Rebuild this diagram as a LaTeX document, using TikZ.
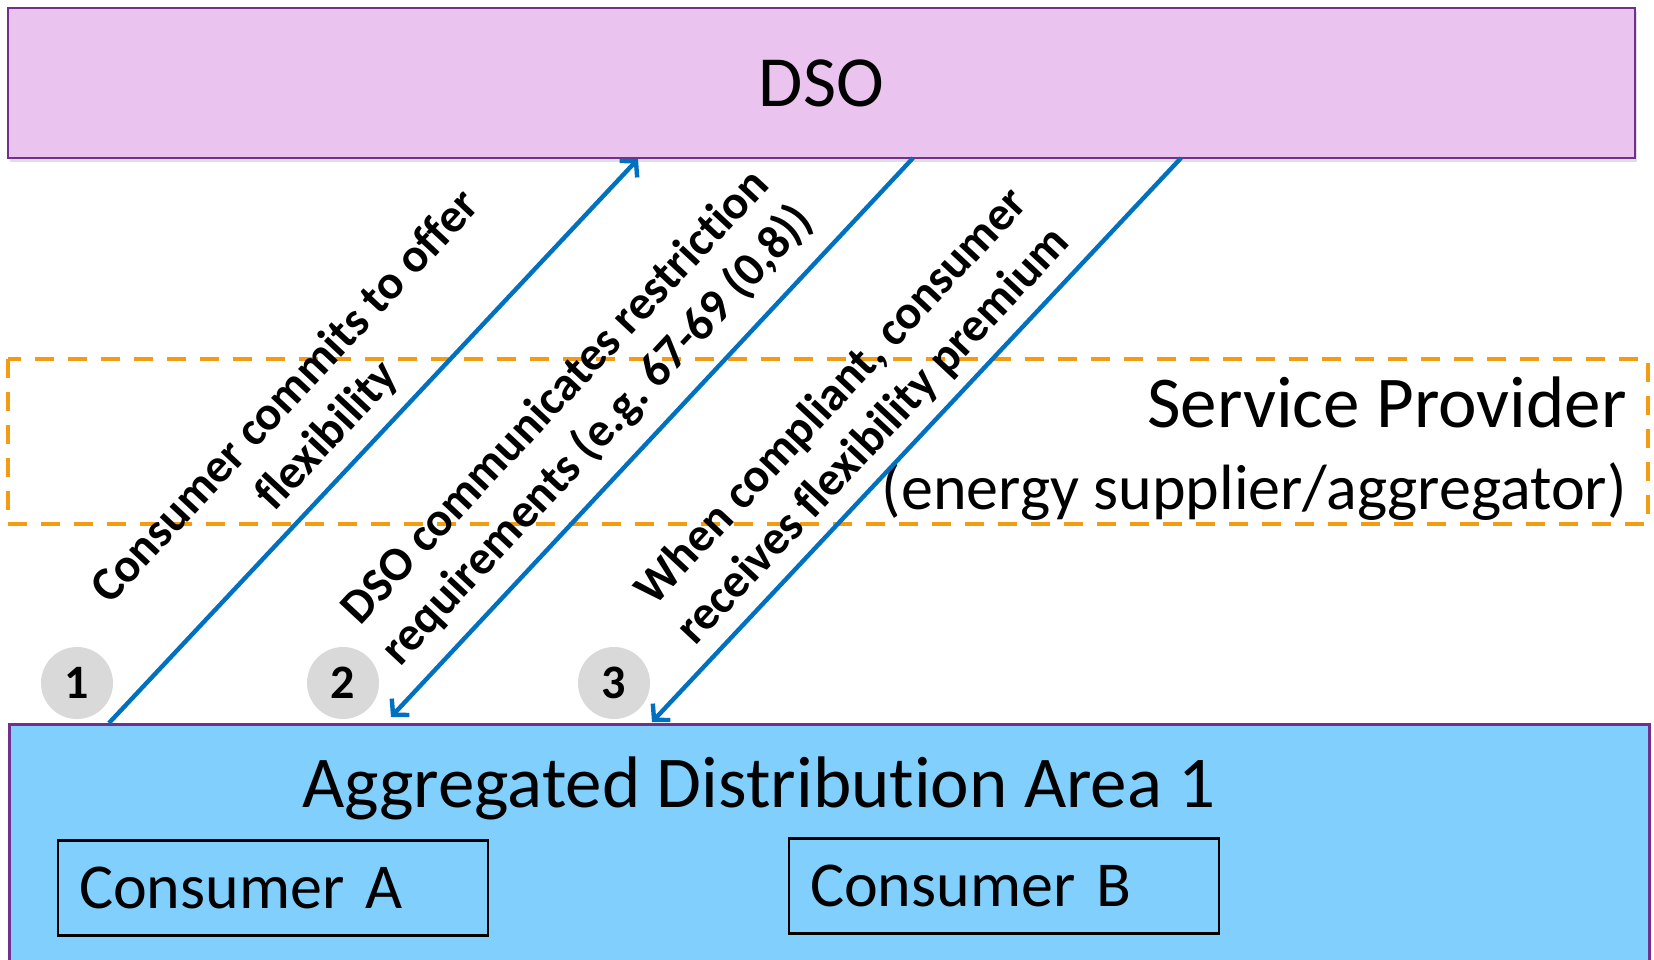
\documentclass[tikz,border=0pt]{standalone}
\usepackage{fontspec}
\setmainfont{Carlito}[Ligatures=NoCommon]
\usetikzlibrary{arrows.meta}
\usetikzlibrary{shadows}
\frenchspacing

\definecolor{dsofill}{RGB}{234,195,238}
\definecolor{boxline}{RGB}{112,48,140}
\definecolor{areafill}{RGB}{128,207,252}
\definecolor{spline}{RGB}{243,156,18}
\definecolor{msgblue}{RGB}{0,112,192}
\definecolor{stepgray}{RGB}{217,217,217}

\begin{document}
\begin{tikzpicture}[x=0.5pt,y=-0.5pt,
        msg/.style={draw=msgblue,line width=2.2pt,-{Straight Barb[length=5.5pt,width=12pt]}},
        stepmark/.style={circle,fill=stepgray,minimum size=36pt,inner sep=0pt,font=\fontsize{24}{28}\selectfont\bfseries},
        msglabel/.style={rotate=47,align=center,inner sep=0pt,font=\fontsize{24}{28.5}\selectfont\bfseries},
        consumer/.style={draw=black,line width=1.2pt,text width=194pt,inner xsep=10.5pt,minimum height=47.5pt,align=left,font=\fontsize{32}{38}\selectfont}]

        \useasboundingbox (0,0) rectangle (1654,959);

        \coordinate (lo1) at (109,723);
        \coordinate (up1) at (638,159);
        \coordinate (up2) at (913,158);
        \coordinate (lo2) at (391,717);
        \coordinate (up3) at (1181,158);
        \coordinate (lo3) at (652,722);

        % boxes
        \node[draw=boxline,line width=1.3pt,fill=dsofill,minimum width=813.5pt,minimum height=75pt,
              drop shadow={opacity=.25,shadow xshift=1pt,shadow yshift=-2pt},
              font=\fontsize{36}{43}\selectfont] (dso) at (821.5,83) {DSO};
        \node[draw=boxline,line width=1.3pt,fill=areafill,minimum width=820pt,minimum height=130pt,
              anchor=north west] (area) at (8,723) {};

        \draw[spline,line width=2pt,dash pattern=on 9.5pt off 7pt] (8,359) rectangle (1648,524);
        \node[anchor=base east,inner sep=0pt,font=\fontsize{36.5}{43}\selectfont] (sp) at (1627,427) {Service Provider};
        \node[anchor=base east,inner sep=0pt,font=\fontsize{32}{38}\selectfont] (sprole) at (1627,509) {(energy supplier/aggregator)};

        \node[anchor=base,inner sep=0pt,font=\fontsize{36.5}{43}\selectfont] (areaname) at (759,807) {Aggregated Distribution Area 1};
        \node[consumer] (consA) at (273,888) {Consumer A};
        \node[consumer] (consB) at (1004,886) {Consumer B};

        % messages
        \draw[msg] (lo1) -- (up1);
        \draw[msg] (up2) -- (lo2);
        \draw[msg] (up3) -- (lo3);

        \node[msglabel] (lab1) at (307,417) {Consumer commits to offer\\flexibility};
        \node[msglabel] (lab2) at (577,417) {DSO communicates restriction\\requirements (e.g. 67-69 (0,8))};
        \node[msglabel] (lab3) at (853,417) {When compliant, consumer\\receives flexibility premium};

        \node[stepmark] (s1) at (77,683) {1};
        \node[stepmark] (s2) at (343,683) {2};
        \node[stepmark] (s3) at (614,683) {3};

\end{tikzpicture}
\end{document}
